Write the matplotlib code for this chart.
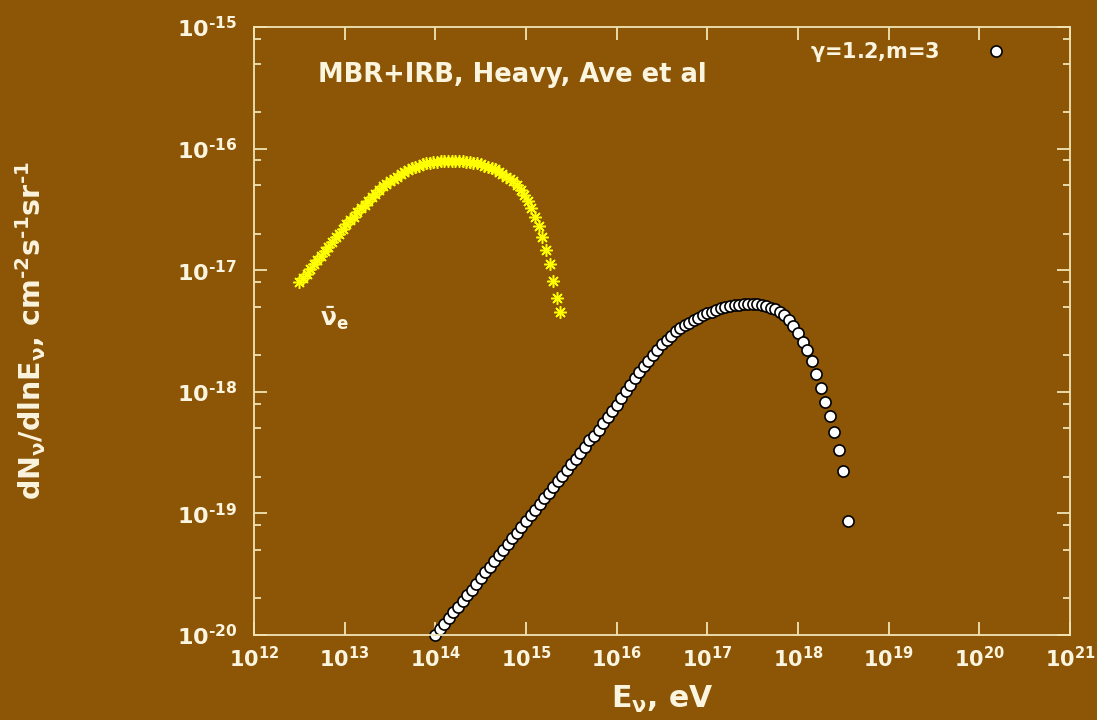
import numpy as np
import matplotlib
matplotlib.use("Agg")
import matplotlib.pyplot as plt
from matplotlib.ticker import FixedLocator, LogLocator, NullLocator, FuncFormatter

# Electron antineutrino spectrum: log10(E / eV) and log10(dN/dlnE)
nuebar_log_e = [
    12.50, 12.54, 12.58, 12.62, 12.66, 12.70, 12.74, 12.78, 12.82, 12.86,
    12.90, 12.94, 12.98, 13.02, 13.06, 13.10, 13.14, 13.18, 13.22, 13.26,
    13.30, 13.34, 13.38, 13.42, 13.46, 13.50, 13.54, 13.58, 13.62, 13.66,
    13.70, 13.74, 13.78, 13.82, 13.86, 13.90, 13.94, 13.98, 14.02, 14.06,
    14.10, 14.14, 14.18, 14.22, 14.26, 14.30, 14.34, 14.38, 14.42, 14.46,
    14.50, 14.54, 14.58, 14.62, 14.66, 14.70, 14.74, 14.78, 14.82, 14.86,
    14.90, 14.94, 14.98, 15.02, 15.06, 15.10, 15.14, 15.18, 15.22, 15.26,
    15.30, 15.34, 15.38,
]
nuebar_log_flux = [
    -17.10, -17.06, -17.03, -16.99, -16.95, -16.92, -16.88, -16.84, -16.81, -16.77,
    -16.73, -16.70, -16.66, -16.62, -16.59, -16.56, -16.52, -16.49, -16.46, -16.43,
    -16.40, -16.37, -16.34, -16.31, -16.29, -16.27, -16.25, -16.23, -16.21, -16.19,
    -16.18, -16.16, -16.15, -16.14, -16.13, -16.12, -16.12, -16.11, -16.11, -16.10,
    -16.10, -16.10, -16.10, -16.10, -16.10, -16.10, -16.11, -16.11, -16.12, -16.12,
    -16.13, -16.14, -16.15, -16.16, -16.17, -16.19, -16.21, -16.23, -16.25, -16.27,
    -16.30, -16.34, -16.38, -16.43, -16.49, -16.56, -16.64, -16.73, -16.83, -16.95,
    -17.09, -17.23, -17.34,
]

# Spectrum for gamma=1.2, m=3: log10(E / eV) and log10(dN/dlnE)
nu_log_e = [
    14.00, 14.05, 14.10, 14.15, 14.20, 14.25, 14.30, 14.35, 14.40, 14.45,
    14.50, 14.55, 14.60, 14.65, 14.70, 14.75, 14.80, 14.85, 14.90, 14.95,
    15.00, 15.05, 15.10, 15.15, 15.20, 15.25, 15.30, 15.35, 15.40, 15.45,
    15.50, 15.55, 15.60, 15.65, 15.70, 15.75, 15.80, 15.85, 15.90, 15.95,
    16.00, 16.05, 16.10, 16.15, 16.20, 16.25, 16.30, 16.35, 16.40, 16.45,
    16.50, 16.55, 16.60, 16.65, 16.70, 16.75, 16.80, 16.85, 16.90, 16.95,
    17.00, 17.05, 17.10, 17.15, 17.20, 17.25, 17.30, 17.35, 17.40, 17.45,
    17.50, 17.55, 17.60, 17.65, 17.70, 17.75, 17.80, 17.85, 17.90, 17.95,
    18.00, 18.05, 18.10, 18.15, 18.20, 18.25, 18.30, 18.35, 18.40, 18.45,
    18.50, 18.55,
]
nu_log_flux = [
    -20.00, -19.95, -19.91, -19.86, -19.81, -19.77, -19.72, -19.67, -19.63, -19.58,
    -19.53, -19.48, -19.44, -19.39, -19.34, -19.30, -19.25, -19.20, -19.16, -19.11,
    -19.06, -19.01, -18.97, -18.92, -18.87, -18.83, -18.78, -18.73, -18.69, -18.64,
    -18.59, -18.55, -18.50, -18.45, -18.40, -18.36, -18.31, -18.26, -18.21, -18.16,
    -18.11, -18.05, -17.99, -17.94, -17.89, -17.84, -17.79, -17.75, -17.70, -17.66,
    -17.61, -17.57, -17.54, -17.50, -17.475, -17.45, -17.43, -17.41, -17.39, -17.37,
    -17.355, -17.34, -17.325, -17.31, -17.30, -17.295, -17.29, -17.285, -17.28, -17.278,
    -17.278, -17.28, -17.285, -17.295, -17.31, -17.32, -17.345, -17.37, -17.41, -17.46,
    -17.52, -17.59, -17.66, -17.75, -17.85, -17.97, -18.08, -18.20, -18.33, -18.48,
    -18.65, -19.06,
]

x_decades = [12, 13, 14, 15, 16, 17, 18, 19, 20, 21]
y_decades = [-20, -19, -18, -17, -16, -15]

nu_label = r"$\gamma$=1.2,m=3"
nuebar_label = r"$\bar{\nu}_e$"
title_text = "MBR+IRB, Heavy, Ave et al"

bg = "#8c5606"
axis_col = "#efe4b4"
text_col = "#fbf4de"

plt.rcParams["font.family"] = ["DejaVu Sans"]
plt.rcParams["font.weight"] = "bold"
plt.rcParams["axes.labelweight"] = "bold"
plt.rcParams["mathtext.fontset"] = "custom"
plt.rcParams["mathtext.rm"] = "DejaVu Sans:bold"
plt.rcParams["mathtext.it"] = "DejaVu Sans:bold"
plt.rcParams["mathtext.bf"] = "DejaVu Sans:bold"
plt.rcParams["mathtext.sf"] = "DejaVu Sans:bold"

fig = plt.figure(figsize=(10.97, 7.20), dpi=100, facecolor=bg)
ax = fig.add_axes([0.2315, 0.118, 0.7439, 0.8445], facecolor=bg)
ax.set_xscale("log")
ax.set_yscale("log")
ax.set_xlim(10.0 ** x_decades[0], 10.0 ** x_decades[-1])
ax.set_ylim(10.0 ** y_decades[0], 10.0 ** y_decades[-1])

ax.plot(10.0 ** np.array(nuebar_log_e), 10.0 ** np.array(nuebar_log_flux),
        linestyle="none", marker=(8, 2, 0), markersize=9,
        markeredgewidth=1.1, color="#ffff00", clip_on=False)
ax.plot(10.0 ** np.array(nu_log_e), 10.0 ** np.array(nu_log_flux),
        linestyle="none", marker="o", markersize=8.0,
        markerfacecolor="white", markeredgecolor="black",
        markeredgewidth=1.2, clip_on=False, label=nu_label)


def decade_label(v, pos):
    # "10" with the exponent written using a short hyphen
    e = int(round(np.log10(v)))
    exp = ("\u2010%d" % -e) if e < 0 else ("%d" % e)
    return r"$10^{%s}$" % exp


# ticks
ax.xaxis.set_major_locator(FixedLocator([10.0 ** d for d in x_decades]))
ax.xaxis.set_minor_locator(NullLocator())
ax.yaxis.set_major_locator(FixedLocator([10.0 ** d for d in y_decades]))
ax.yaxis.set_minor_locator(LogLocator(base=10.0, subs=(2.0, 5.0, 8.0)))
fmt = FuncFormatter(decade_label)
ax.xaxis.set_major_formatter(fmt)
ax.yaxis.set_major_formatter(fmt)
ax.tick_params(which="both", direction="in", top=True, right=True,
               color=axis_col, width=1.3, labelcolor=text_col)
ax.tick_params(which="major", length=9.5, labelsize=15)
ax.tick_params(axis="y", which="major", labelsize=16)
ax.tick_params(which="minor", length=5)
ax.tick_params(axis="x", pad=8)
ax.tick_params(axis="y", pad=12)
for s in ax.spines.values():
    s.set_color(axis_col)
    s.set_linewidth(1.3)

ax.set_xlabel(r"E$_\nu$, eV", fontsize=21.5, color=text_col, fontweight="bold")
ax.xaxis.set_label_coords(0.5, -0.08)
ax.set_ylabel("dN$_\\nu$/dlnE$_\\nu$, cm$^{\u20102}$s$^{\u20101}$sr$^{\u20101}$",
              fontsize=20.5, color=text_col, fontweight="bold")
ax.yaxis.set_label_coords(-0.252, 0.5)

ax.text(0.078, 0.921, title_text, transform=ax.transAxes, fontsize=18.5,
        color=text_col, ha="left", va="center")
ax.text(0.081, 0.521, nuebar_label, transform=ax.transAxes, fontsize=17,
        color=text_col, ha="left", va="center")

leg = ax.legend(loc="center right", bbox_to_anchor=(0.968, 0.959),
                borderaxespad=0, frameon=False, markerfirst=False,
                numpoints=1, handlelength=3.8, handletextpad=0.8,
                fontsize=15)
for t in leg.get_texts():
    t.set_color(text_col)

fig.savefig("out.png", dpi=100, facecolor=bg)
